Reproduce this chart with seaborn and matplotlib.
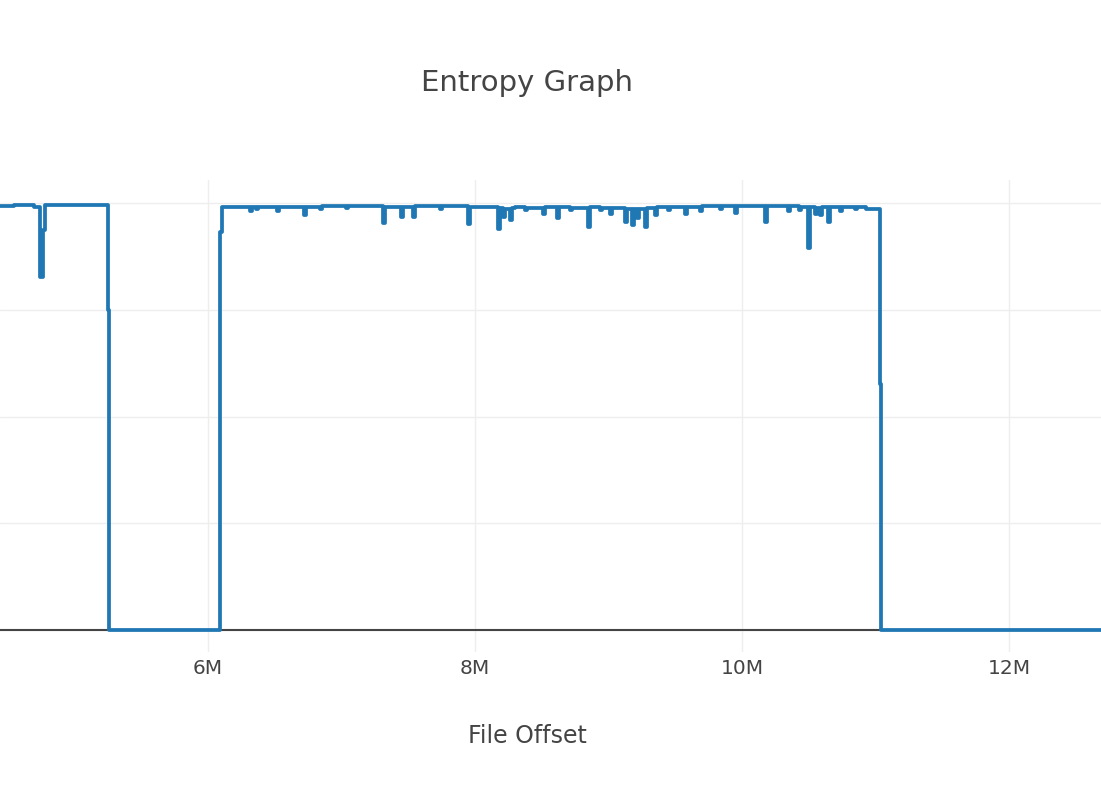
#Entropy graph con seaborn (grafica de pasos)

import pandas as pd
import seaborn as sns
import matplotlib.pyplot as plt

#offsets del archivo en MB (inicio de cada bloque) y entropia del bloque
offset_mb = [4.00, 4.55, 4.70, 4.742, 4.764, 4.780, 5.251, 5.258,
             6.090, 6.105, 6.315, 6.330, 6.360, 6.375, 6.517, 6.532,
             6.719, 6.734, 6.839, 6.854, 7.030, 7.045, 7.311, 7.326,
             7.446, 7.461, 7.536, 7.551, 7.738, 7.753, 7.948, 7.963,
             8.172, 8.187, 8.210, 8.225, 8.262, 8.277, 8.300, 8.375,
             8.390, 8.509, 8.524, 8.614, 8.629, 8.710, 8.725, 8.846,
             8.861, 8.936, 8.951, 9.011, 9.026, 9.124, 9.139, 9.176,
             9.191, 9.213, 9.228, 9.273, 9.288, 9.348, 9.363, 9.446,
             9.461, 9.573, 9.588, 9.685, 9.700, 9.835, 9.850, 9.948,
             9.963, 10.172, 10.187, 10.345, 10.360, 10.430, 10.445, 10.495,
             10.510, 10.547, 10.562, 10.584, 10.599, 10.644, 10.659, 10.734,
             10.749, 10.846, 10.861, 10.930, 11.034, 11.042, 13.00]
entropy = [7.95, 7.97, 7.93, 6.62, 7.50, 7.96, 6.00, 0.00,
           7.45, 7.93, 7.85, 7.93, 7.88, 7.92, 7.85, 7.93,
           7.77, 7.92, 7.88, 7.94, 7.90, 7.94, 7.63, 7.93,
           7.74, 7.93, 7.74, 7.94, 7.88, 7.94, 7.60, 7.93,
           7.52, 7.90, 7.74, 7.89, 7.68, 7.90, 7.93, 7.86,
           7.91, 7.80, 7.92, 7.71, 7.92, 7.86, 7.91, 7.55,
           7.92, 7.86, 7.91, 7.80, 7.90, 7.65, 7.89, 7.58,
           7.88, 7.72, 7.89, 7.55, 7.90, 7.78, 7.92, 7.86,
           7.93, 7.80, 7.93, 7.84, 7.94, 7.88, 7.94, 7.82,
           7.94, 7.65, 7.94, 7.85, 7.94, 7.86, 7.93, 7.16,
           7.92, 7.80, 7.91, 7.77, 7.92, 7.65, 7.92, 7.84,
           7.93, 7.88, 7.93, 7.88, 4.60, 0.00, 0.00]

xticks = [6, 8, 10, 12]
xtick_labels = ["6M", "8M", "10M", "12M"]

df = pd.DataFrame({"offset": offset_mb, "entropy": entropy})

sns.set_theme(style="whitegrid")
plt.rcParams['font.family'] = ['DejaVu Sans']

fig = plt.figure(figsize=(11.01, 7.86), dpi=100)
ax = fig.add_axes([0, 0.1705, 1, 0.6005])

sns.lineplot(data=df, x="offset", y="entropy", estimator=None, drawstyle="steps-post",
             color="#1f77b4", linewidth=2.7, ax=ax)

ax.set_xlim(4.442, 12.689)
ax.set_ylim(-0.41, 8.43)
ax.set_xticks(xticks)
ax.set_xticklabels(xtick_labels, fontsize=14.5, color="#444444")
ax.set_yticks([0, 2, 4, 6, 8])
ax.set_yticklabels([])
ax.tick_params(axis="both", length=0, pad=5)
ax.grid(True, color="#eeeeee", linewidth=1)
ax.axhline(0, color="#444444", linewidth=1.5, zorder=1)
for s in ax.spines.values():
    s.set_visible(False)
ax.set_xlabel("")
ax.set_ylabel("")

fig.text(0.479, 1 - 83 / 786, "Entropy Graph", ha="center", va="center", fontsize=21, color="#444444")
fig.text(0.479, 1 - 736 / 786, "File Offset", ha="center", va="center", fontsize=17, color="#444444")

fig.savefig("out.png", dpi=100)
